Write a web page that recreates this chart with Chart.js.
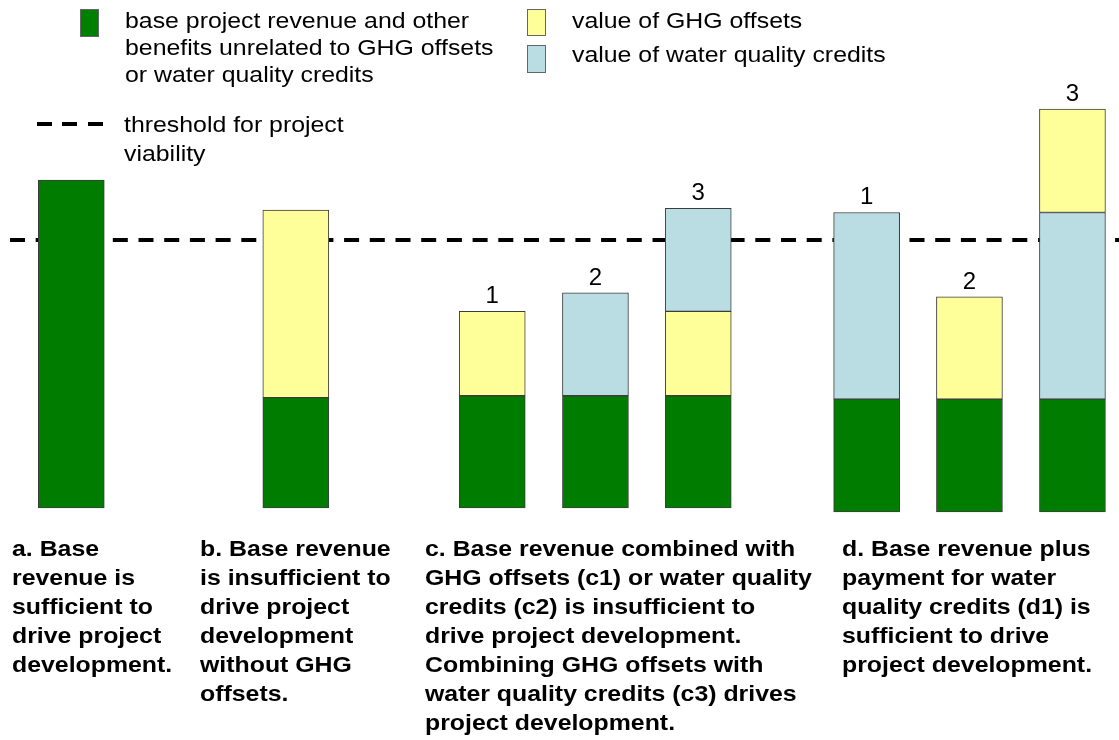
<!DOCTYPE html>
<html>
<head>
<meta charset="utf-8">
<script src="https://cdn.jsdelivr.net/npm/chart.js@4.4.1/dist/chart.umd.min.js"></script>
<style>
    body { margin: 0; background: #fff; width: 1119px; height: 740px; overflow: hidden; position: relative;
           font-family: 'Liberation Sans', Arial, sans-serif; }
    #wrap { position: absolute; left: 0; top: 0; width: 1119px; height: 740px; }
    .txt { position: absolute; white-space: nowrap; color: #000; font-size: 22px; line-height: 27px;
           transform: scaleX(1.13); transform-origin: 0 0; }
    .cap { position: absolute; white-space: nowrap; color: #000; font-weight: bold; font-size: 22px;
           line-height: 29px; transform: scaleX(1.13); transform-origin: 0 0; }
    .box { position: absolute; border: 1px solid #666; box-sizing: border-box; }
    .dash { position: absolute; left: 37px; top: 122px; width: 66px; height: 4px;
            background: repeating-linear-gradient(90deg, #000 0 15px, transparent 15px 25.5px); }
</style>
</head>
<body>
<div id="wrap"><canvas id="scenarioChart"></canvas></div>

<!-- legend -->
<div class="box" style="left:80px;top:9px;width:19px;height:28px;background:#008000;"></div>
<div class="txt" style="left:125px;top:7px;">base project revenue and other<br>benefits unrelated to GHG offsets<br>or water quality credits</div>
<div class="dash"></div>
<div class="txt" style="left:124px;top:110px;line-height:29px;">threshold for project<br>viability</div>
<div class="box" style="left:527px;top:9px;width:19px;height:27px;background:#ffff99;"></div>
<div class="txt" style="left:572px;top:7px;">value of GHG offsets</div>
<div class="box" style="left:527px;top:45px;width:19px;height:28px;background:#b9dde3;"></div>
<div class="txt" style="left:572px;top:41px;">value of water quality credits</div>

<!-- captions -->
<div class="cap" style="left:12px;top:534px;">a. Base<br>revenue is<br>sufficient to<br>drive project<br>development.</div>
<div class="cap" style="left:200px;top:534px;">b. Base revenue<br>is insufficient to<br>drive project<br>development<br>without GHG<br>offsets.</div>
<div class="cap" style="left:425px;top:534px;">c. Base revenue combined with<br>GHG offsets (c1) or water quality<br>credits (c2) is insufficient to<br>drive project development.<br>Combining GHG offsets with<br>water quality credits (c3) drives<br>project development.</div>
<div class="cap" style="left:842px;top:534px;">d. Base revenue plus<br>payment for water<br>quality credits (d1) is<br>sufficient to drive<br>project development.</div>

<script>
// Scenario data (relative value units, threshold = 100)
const barLabels = ['a', 'b', 'c1', 'c2', 'c3', 'd1', 'd2', 'd3'];
const scenarioNumbers = ['', '', '1', '2', '3', '1', '2', '3'];
const baseStart = [0, 0, 0, 0, 0, -1.5, -1.5, -1.5];
const baseRevenue = [122.4, 41.2, 41.9, 41.9, 41.9, 42.1, 42.1, 42.1];
const ghgOffsets = [0, 70, 31.5, 0, 31.5, 0, 38.2, 38.6];
const waterCredits = [0, 0, 0, 38.4, 38.4, 69.7, 0, 69.7];
const ghgBelowWater = [true, true, true, true, true, false, false, false];
const threshold = 100;

// Layout: horizontal slot of each bar (one unit = spacing inside a group)
const slotPos = [0, 2.18, 4.087, 5.089, 6.087, 7.722, 8.72, 9.72];

// Build floating segments for each bar
const baseData = [], ghgData = [], waterData = [], barTops = [];
barLabels.forEach((label, i) => {
    let lo = baseStart[i];
    let hi = lo + baseRevenue[i];
    baseData.push({ x: slotPos[i], y: [lo, hi] });
    const order = ghgBelowWater[i] ? ['ghg', 'water'] : ['water', 'ghg'];
    let g = null, w = null;
    order.forEach(kind => {
        const v = kind === 'ghg' ? ghgOffsets[i] : waterCredits[i];
        if (v > 0) {
            const seg = [hi, hi + v];
            hi += v;
            if (kind === 'ghg') g = seg; else w = seg;
        }
    });
    ghgData.push({ x: slotPos[i], y: g });
    waterData.push({ x: slotPos[i], y: w });
    barTops.push(hi);
});

// Dashed threshold line, drawn behind the bars
const thresholdLine = {
    id: 'thresholdLine',
    beforeDatasetsDraw(chart) {
        const ctx = chart.ctx;
        const y = chart.scales.y.getPixelForValue(threshold);
        ctx.save();
        ctx.strokeStyle = '#000';
        ctx.lineWidth = 4;
        ctx.setLineDash([15, 10.7]);
        ctx.beginPath();
        ctx.moveTo(10, y);
        ctx.lineTo(chart.chartArea.right, y);
        ctx.stroke();
        ctx.restore();
    }
};

// Scenario numbers above bars
const scenarioLabels = {
    id: 'scenarioLabels',
    afterDatasetsDraw(chart) {
        const ctx = chart.ctx;
        ctx.save();
        ctx.fillStyle = '#000';
        ctx.font = '24px "Liberation Sans", Arial, sans-serif';
        ctx.textAlign = 'center';
        ctx.textBaseline = 'alphabetic';
        scenarioNumbers.forEach((num, i) => {
            if (!num) return;
            const x = chart.scales.x.getPixelForValue(slotPos[i]);
            const y = chart.scales.y.getPixelForValue(barTops[i]);
            ctx.fillText(num, x, y - 8);
        });
        ctx.restore();
    }
};

const barStyle = {
    grouped: false,
    barThickness: 66,
    borderWidth: 1,
    borderSkipped: false,
    borderColor: '#3c3c3c'
};

new Chart(document.getElementById('scenarioChart'), {
    type: 'bar',
    data: {
        datasets: [
            Object.assign({ label: 'base project revenue', data: baseData, backgroundColor: '#007c00' }, barStyle),
            Object.assign({ label: 'value of GHG offsets', data: ghgData, backgroundColor: '#ffff99' }, barStyle),
            Object.assign({ label: 'value of water quality credits', data: waterData, backgroundColor: '#b9dde3' }, barStyle)
        ]
    },
    options: {
        responsive: true,
        maintainAspectRatio: false,
        animation: false,
        layout: { padding: 0 },
        scales: {
            x: { type: 'linear', min: -0.692, max: 10.172, offset: false, display: false },
            y: { min: -86.6, max: 189.6, display: false }
        },
        plugins: {
            legend: { display: false },
            tooltip: { enabled: false }
        }
    },
    plugins: [thresholdLine, scenarioLabels]
});
</script>
</body>
</html>
